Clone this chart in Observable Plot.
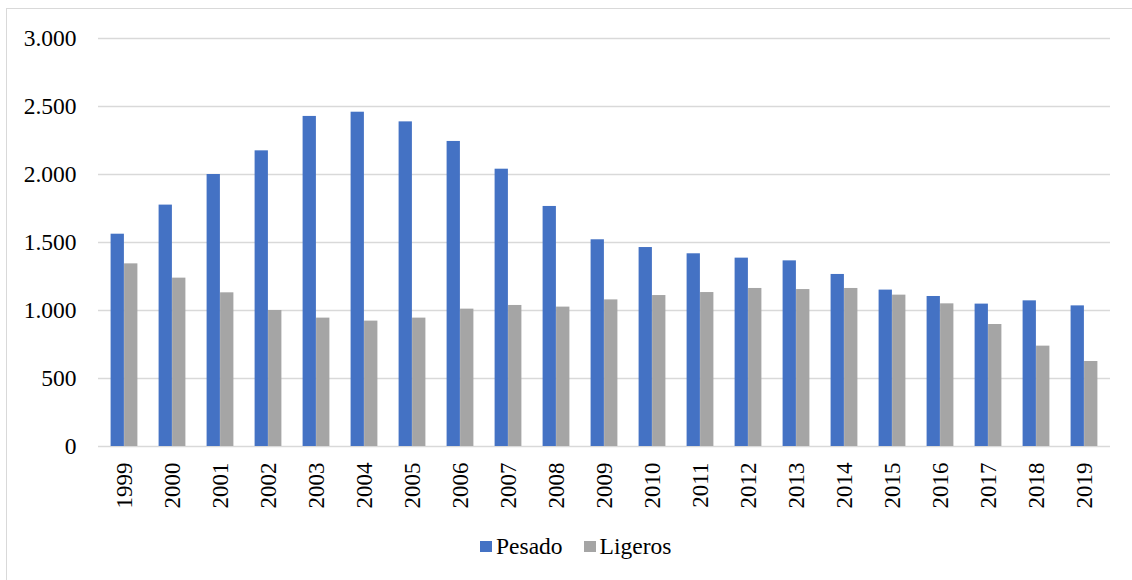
<!DOCTYPE html>
<html>
<head>
<meta charset="utf-8">
<script src="https://cdn.jsdelivr.net/npm/d3@7"></script>
<script src="https://cdn.jsdelivr.net/npm/@observablehq/plot@0.6"></script>
<style>
  html, body { margin: 0; padding: 0; background: #fff; overflow: hidden; width: 1132px; height: 580px; }
  #frame { position: absolute; left: 6px; top: 8px; width: 1140px; height: 580px; border: 1px solid #d9d9d9; box-sizing: border-box; }
  #chart { position: absolute; left: 0; top: 0; }
  #legend { position: absolute; left: 480px; top: 535px; display: flex; align-items: center; font-family: "Liberation Serif", "Times New Roman", serif; font-size: 23.5px; line-height: 23.5px; color: #000; white-space: nowrap; }
  .sw { display: inline-block; width: 12px; height: 11px; margin-right: 4px; }
  #chart svg g[aria-label="y-axis tick label"] { font-size: 23.5px; }
</style>
</head>
<body>
<div id="frame"></div>
<div id="chart"></div>
<div id="legend">
  <span class="sw" style="background:#4472C4"></span><span>Pesado</span>
  <span class="sw" style="background:#A5A5A5; margin-left:21px"></span><span>Ligeros</span>
</div>
<script>
const years = ["1999","2000","2001","2002","2003","2004","2005","2006","2007","2008","2009","2010","2011","2012","2013","2014","2015","2016","2017","2018","2019"];
const pesado = [1561,1775,2000,2174,2427,2458,2387,2243,2039,1765,1520,1463,1417,1385,1365,1265,1150,1103,1047,1071,1034];
const ligeros = [1343,1238,1130,1000,944,922,944,1010,1037,1025,1078,1110,1132,1162,1154,1162,1113,1049,897,738,625];
const seriesNames = ["Pesado","Ligeros"];
const seriesColors = ["#4472C4","#A5A5A5"];
const yTicks = [0,500,1000,1500,2000,2500,3000];

const pesadoData = years.map((yr, i) => ({year: yr, series: seriesNames[0], value: pesado[i]}));
const ligerosData = years.map((yr, i) => ({year: yr, series: seriesNames[1], value: ligeros[i]}));

const fmt = d => d3.format(",")(d).replace(/,/g, ".");

// band step = (1132 - 98 - 22) / 21 ≈ 48.2 px; bar pair ≈ 27 px wide, centred in each band
const outer = 10.6, inner = 24.1;

const chart = Plot.plot({
  width: 1132,
  height: 520,
  marginLeft: 98,
  marginRight: 22,
  marginTop: 38,
  marginBottom: 74,
  style: {fontFamily: "'Liberation Serif', 'Times New Roman', serif", fontSize: "23px", color: "#000", background: "transparent"},
  x: {domain: years, padding: 0, label: null, tickSize: 0, tickPadding: 16, tickRotate: -90},
  y: {domain: [0, 3000], ticks: yTicks, tickFormat: fmt, tickSize: 0, tickPadding: 22, label: null},
  color: {domain: seriesNames, range: seriesColors},
  marks: [
    Plot.ruleY(yTicks, {stroke: "#d9d9d9", strokeWidth: 1.5}),
    Plot.barY(pesadoData, {x: "year", y: "value", fill: "series", insetLeft: outer, insetRight: inner}),
    Plot.barY(ligerosData, {x: "year", y: "value", fill: "series", insetLeft: inner, insetRight: outer})
  ]
});
document.getElementById("chart").appendChild(chart);
</script>
</body>
</html>
